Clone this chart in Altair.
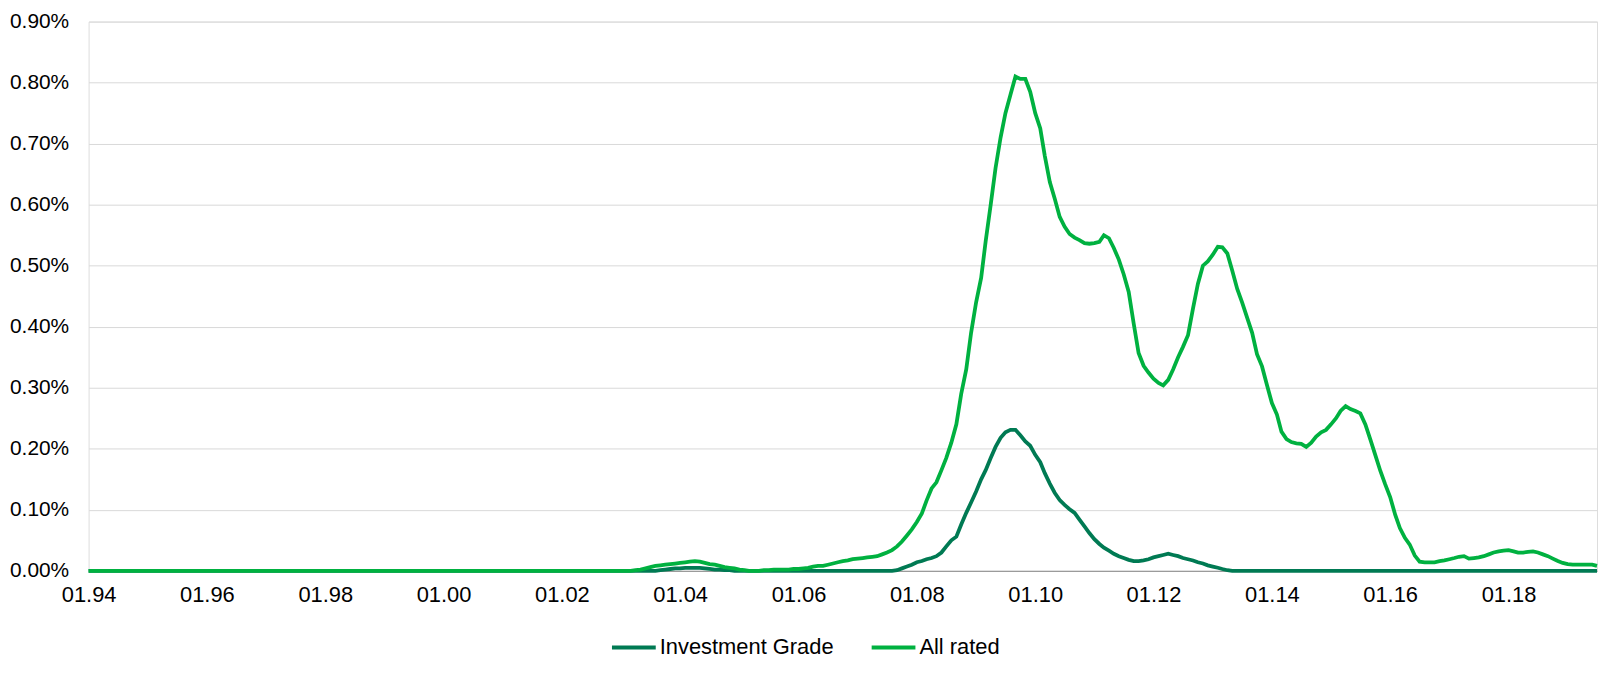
import altair as alt
import pandas as pd

# Monthly default rates in percent, Jan 1994 .. Jul 2019 (one line per year)
ALL_RATED = [
    0, 0, 0, 0, 0, 0, 0, 0, 0, 0, 0, 0,  # 1994
    0, 0, 0, 0, 0, 0, 0, 0, 0, 0, 0, 0,  # 1995
    0, 0, 0, 0, 0, 0, 0, 0, 0, 0, 0, 0,  # 1996
    0, 0, 0, 0, 0, 0, 0, 0, 0, 0, 0, 0,  # 1997
    0, 0, 0, 0, 0, 0, 0, 0, 0, 0, 0, 0,  # 1998
    0, 0, 0, 0, 0, 0, 0, 0, 0, 0, 0, 0,  # 1999
    0, 0, 0, 0, 0, 0, 0, 0, 0, 0, 0, 0,  # 2000
    0, 0, 0, 0, 0, 0, 0, 0, 0, 0, 0, 0,  # 2001
    0, 0, 0, 0, 0, 0, 0, 0, 0, 0, 0, 0,  # 2002
    0, 0, 0, 0.001, 0.002, 0.004, 0.006, 0.008, 0.009, 0.010, 0.011, 0.012,  # 2003
    0.013, 0.014, 0.015, 0.016, 0.015, 0.013, 0.011, 0.010, 0.008, 0.006, 0.005, 0.004,  # 2004
    0.002, 0.001, 0.000, 0.000, 0.000, 0.001, 0.001, 0.002, 0.002, 0.002, 0.002, 0.003,  # 2005
    0.003, 0.004, 0.005, 0.007, 0.008, 0.008, 0.010, 0.012, 0.014, 0.016, 0.017, 0.019,  # 2006
    0.020, 0.021, 0.022, 0.023, 0.024, 0.027, 0.030, 0.034, 0.040, 0.048, 0.058, 0.068,  # 2007
    0.080, 0.094, 0.115, 0.135, 0.145, 0.165, 0.185, 0.210, 0.240, 0.290, 0.330, 0.390,  # 2008
    0.440, 0.480, 0.540, 0.600, 0.660, 0.710, 0.750, 0.780, 0.810, 0.806, 0.806, 0.785,  # 2009
    0.750, 0.725, 0.680, 0.637, 0.610, 0.580, 0.564, 0.552, 0.546, 0.542, 0.537, 0.536,  # 2010
    0.537, 0.539, 0.550, 0.545, 0.529, 0.510, 0.486, 0.457, 0.405, 0.357, 0.336, 0.325,  # 2011
    0.315, 0.308, 0.304, 0.313, 0.330, 0.350, 0.367, 0.386, 0.430, 0.470, 0.500, 0.507,  # 2012
    0.518, 0.531, 0.530, 0.520, 0.492, 0.462, 0.440, 0.415, 0.390, 0.355, 0.335, 0.305,  # 2013
    0.275, 0.256, 0.228, 0.216, 0.211, 0.209, 0.208, 0.203, 0.210, 0.220, 0.227, 0.231,  # 2014
    0.240, 0.250, 0.262, 0.270, 0.265, 0.262, 0.258, 0.240, 0.215, 0.190, 0.164, 0.142,  # 2015
    0.121, 0.092, 0.070, 0.054, 0.043, 0.025, 0.015, 0.014, 0.014, 0.014, 0.016, 0.017,  # 2016
    0.019, 0.021, 0.023, 0.024, 0.020, 0.021, 0.022, 0.024, 0.027, 0.030, 0.032, 0.033,  # 2017
    0.034, 0.032, 0.030, 0.030, 0.031, 0.032, 0.030, 0.027, 0.024, 0.020, 0.016, 0.013,  # 2018
    0.011, 0.010, 0.010, 0.010, 0.010, 0.010, 0.008,  # 2019
]

INVESTMENT_GRADE = [
    0, 0, 0, 0, 0, 0, 0, 0, 0, 0, 0, 0,  # 1994
    0, 0, 0, 0, 0, 0, 0, 0, 0, 0, 0, 0,  # 1995
    0, 0, 0, 0, 0, 0, 0, 0, 0, 0, 0, 0,  # 1996
    0, 0, 0, 0, 0, 0, 0, 0, 0, 0, 0, 0,  # 1997
    0, 0, 0, 0, 0, 0, 0, 0, 0, 0, 0, 0,  # 1998
    0, 0, 0, 0, 0, 0, 0, 0, 0, 0, 0, 0,  # 1999
    0, 0, 0, 0, 0, 0, 0, 0, 0, 0, 0, 0,  # 2000
    0, 0, 0, 0, 0, 0, 0, 0, 0, 0, 0, 0,  # 2001
    0, 0, 0, 0, 0, 0, 0, 0, 0, 0, 0, 0,  # 2002
    0, 0, 0, 0, 0, 0, 0, 0, 0.001, 0.002, 0.003, 0.004,  # 2003
    0.004, 0.005, 0.005, 0.005, 0.005, 0.004, 0.003, 0.002, 0.002, 0.001, 0.001, 0,  # 2004
    0, 0, 0, 0, 0, 0, 0, 0, 0, 0, 0, 0,  # 2005
    0, 0, 0, 0, 0, 0, 0, 0, 0, 0, 0, 0,  # 2006
    0, 0, 0, 0, 0, 0, 0, 0, 0.001, 0.004, 0.007, 0.010,  # 2007
    0.014, 0.016, 0.019, 0.021, 0.024, 0.030, 0.040, 0.050, 0.056, 0.076, 0.095, 0.112,  # 2008
    0.130, 0.150, 0.165, 0.185, 0.203, 0.218, 0.227, 0.231, 0.231, 0.222, 0.212, 0.205,  # 2009
    0.190, 0.178, 0.160, 0.143, 0.128, 0.116, 0.108, 0.101, 0.095, 0.084, 0.073, 0.062,  # 2010
    0.052, 0.044, 0.038, 0.033, 0.028, 0.024, 0.021, 0.018, 0.016, 0.016, 0.017, 0.019,  # 2011
    0.022, 0.024, 0.026, 0.028, 0.026, 0.024, 0.021, 0.019, 0.017, 0.014, 0.012, 0.009,  # 2012
    0.007, 0.005, 0.003, 0.001, 0, 0, 0, 0, 0, 0, 0, 0,  # 2013
    0, 0, 0, 0, 0, 0, 0, 0, 0, 0, 0, 0,  # 2014
    0, 0, 0, 0, 0, 0, 0, 0, 0, 0, 0, 0,  # 2015
    0, 0, 0, 0, 0, 0, 0, 0, 0, 0, 0, 0,  # 2016
    0, 0, 0, 0, 0, 0, 0, 0, 0, 0, 0, 0,  # 2017
    0, 0, 0, 0, 0, 0, 0, 0, 0, 0, 0, 0,  # 2018
    0, 0, 0, 0, 0, 0, 0,  # 2019
]

SERIES = ["Investment Grade", "All rated"]
COLORS = ["#007A53", "#00B140"]
Y_TICKS = [0.0, 0.1, 0.2, 0.3, 0.4, 0.5, 0.6, 0.7, 0.8, 0.9]
X_TICK_YEARS = list(range(1994, 2019, 2))

dates = pd.date_range("1994-01-01", periods=len(ALL_RATED), freq="MS")
df = pd.concat([
    pd.DataFrame({"date": dates, "value": INVESTMENT_GRADE, "series": SERIES[0]}),
    pd.DataFrame({"date": dates, "value": ALL_RATED, "series": SERIES[1]}),
])

FONT = "Liberation Sans"
x_vals = [alt.DateTime(year=y, month=1, date=1) for y in X_TICK_YEARS]

x_enc = alt.X(
    "date:T",
    scale=alt.Scale(domain=[alt.DateTime(year=1994, month=1, date=1),
                            alt.DateTime(year=2019, month=7, date=1)]),
    axis=alt.Axis(values=x_vals, format="%m.%y", title=None, grid=False,
                  ticks=False, labelPadding=14, domainColor="#8c8c8c",
                  labelFont=FONT, labelFontSize=22, labelColor="#000000",
                  labelOverlap=False, labelFlush=False),
)
y_enc = alt.Y(
    "value:Q",
    scale=alt.Scale(domain=[0, 0.9], nice=False),
    axis=alt.Axis(values=Y_TICKS, labelExpr="format(datum.value, '.2f') + '%'",
                  title=None, grid=True, gridColor="#d9d9d9", ticks=False,
                  domain=False, labelPadding=20, labelFont=FONT,
                  labelFontSize=21, labelColor="#000000"),
)
color_enc = alt.Color(
    "series:N",
    scale=alt.Scale(domain=SERIES, range=COLORS),
    legend=alt.Legend(orient="none", legendX=524, legendY=605, direction="horizontal",
                      title=None, symbolType="stroke", symbolSize=1936,
                      symbolStrokeWidth=4, labelFont=FONT, labelFontSize=22,
                      labelColor="#000000", labelLimit=400, labelOffset=2,
                      columnPadding=30, padding=0),
)

base = alt.Chart(df).mark_line(strokeWidth=3.8, interpolate="linear")
ig = base.transform_filter(alt.datum.series == SERIES[0]).encode(x=x_enc, y=y_enc, color=color_enc)
ar = base.transform_filter(alt.datum.series == SERIES[1]).encode(x=x_enc, y=y_enc, color=color_enc)

chart = alt.layer(ig, ar).properties(
    width=1516, height=552,
    autosize=alt.AutoSizeParams(type="none"),
    padding={"left": 81, "top": 12, "right": 2, "bottom": 96},
).configure_view(stroke=None).configure(background="white")

chart.save("out.html", embed_options={"renderer": "svg", "actions": False})
